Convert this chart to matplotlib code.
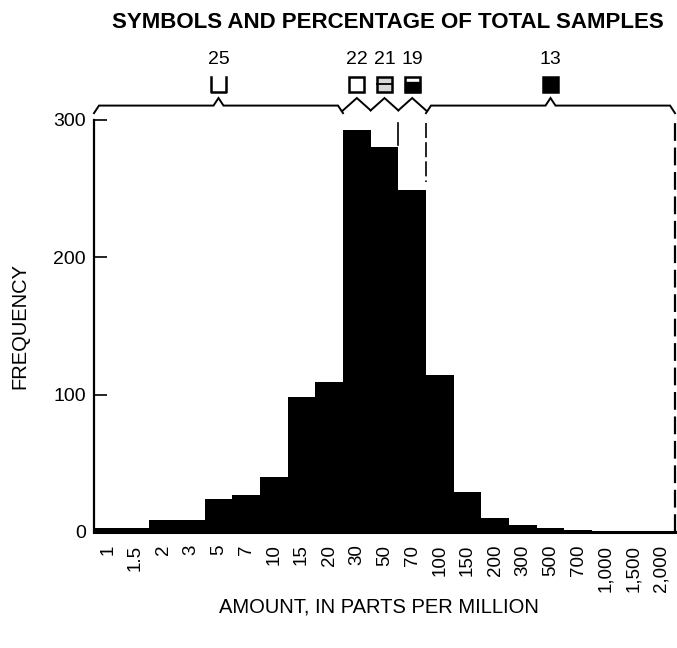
import matplotlib
matplotlib.use("Agg")
import matplotlib.pyplot as plt
from matplotlib.patches import Rectangle

plt.rcParams['font.family'] = ['Liberation Sans', 'DejaVu Sans']

# ---- data ----
tick_labels = ["1", "1.5", "2", "3", "5", "7", "10", "15", "20", "30", "50", "70",
               "100", "150", "200", "300", "500", "700", "1,000", "1,500", "2,000"]
frequency = [3, 3, 9, 9, 24, 27, 40, 98, 109, 293, 280, 249,
             114, 29, 10, 5, 3, 1.5, 1, 0.5, 0.4]
# percentage groups: (first bin index, last bin index, percent)
group_first = [0, 9, 10, 11, 12]
group_last = [8, 9, 10, 11, 20]
group_percent = ["25", "22", "21", "19", "13"]
symbol_kind = ["open_top", "open", "striped", "half", "filled"]
yticks = [0, 100, 200, 300]

fig = plt.figure(figsize=(6.77, 6.48), dpi=100)
ax = fig.add_axes([94/677, (648-532)/648, 581/677, (532-120)/648])

x = list(range(len(tick_labels)))
ax.bar(x, frequency, width=1.0, color="black", edgecolor="none")

ax.set_xlim(-0.5, len(tick_labels) - 0.5)
ax.set_ylim(0, 300)
ax.set_xticks(x)
ax.set_xticklabels(tick_labels, rotation=90, fontsize=13.5)
ax.tick_params(axis="x", length=0, pad=9)
ax.set_yticks(yticks)
ax.set_yticklabels([str(v) for v in yticks], fontsize=14)
ax.tick_params(axis="y", direction="in", length=9, width=1.2, pad=6)

for s in ["top", "right"]:
    ax.spines[s].set_visible(False)
ax.spines["left"].set_linewidth(1.6)
ax.spines["bottom"].set_linewidth(2.2)

# right dashed boundary
xr = len(tick_labels) - 0.5
ax.plot([xr, xr], [0, 300], color="black", lw=1.6, ls=(0, (8, 3)), clip_on=False)

# dashed percentile boundaries
ax.plot([10.5, 10.5], [298, frequency[10] + 2], color="black", lw=1.2, clip_on=False)
ax.plot([11.5, 11.5], [298, frequency[11] + 6], color="black", lw=1.2,
        ls=(0, (9, 2.5)), clip_on=False)

# braces
yl, yv, yt = 310.5, 307, 316
for i, (a_i, b_i) in enumerate(zip(group_first, group_last)):
    a = a_i - 0.5
    b = b_i + 0.5
    m = (a + b) / 2
    if b - a <= 1.01:
        xs = [a, m, b]
        ys = [yv, yt, yv]
    else:
        d = 0.18
        xs = [a, a + d, m - d, m, m + d, b - d, b]
        ys = [yv - 2, yl, yl, yt, yl, yl, yv - 2]
    ax.plot(xs, ys, color="black", lw=1.4, clip_on=False, solid_joinstyle="miter")
    ax.text(m, 344, group_percent[i], ha="center", va="center", fontsize=14,
            clip_on=False)
    # symbols
    w, h = 0.55, 10.8
    x0, y0 = m - w / 2, 320.5
    kind = symbol_kind[i]
    if kind == "open_top":
        ax.plot([x0, x0, x0 + w, x0 + w], [y0 + h, y0, y0, y0 + h],
                color="black", lw=1.8, clip_on=False)
    elif kind == "open":
        ax.add_patch(Rectangle((x0, y0), w, h, facecolor="white", edgecolor="black",
                               lw=1.8, clip_on=False))
    elif kind == "striped":
        ax.add_patch(Rectangle((x0, y0), w, h, facecolor="#d8d8d8", edgecolor="black",
                               lw=1.8, clip_on=False))
        ax.plot([x0, x0 + w], [y0 + h * 0.5, y0 + h * 0.5], color="black", lw=1.3,
                clip_on=False)
    elif kind == "half":
        ax.add_patch(Rectangle((x0, y0), w, h, facecolor="white", edgecolor="black",
                               lw=1.8, clip_on=False))
        ax.add_patch(Rectangle((x0, y0), w, h * 0.65, facecolor="black",
                               edgecolor="black", lw=1.0, clip_on=False))
    else:
        ax.add_patch(Rectangle((x0, y0), w, h, facecolor="black", edgecolor="black",
                               lw=1.8, clip_on=False))

fig.text(388/677, 1 - 22/648, "SYMBOLS AND PERCENTAGE OF TOTAL SAMPLES",
         ha="center", va="center", fontsize=16, fontweight="bold")
fig.text(379/677, 1 - 607/648, "AMOUNT, IN PARTS PER MILLION",
         ha="center", va="center", fontsize=14.5)
fig.text(20/677, 1 - 326/648, "FREQUENCY", ha="center", va="center",
         rotation=90, fontsize=14.5)

fig.savefig("out.png", dpi=100)
